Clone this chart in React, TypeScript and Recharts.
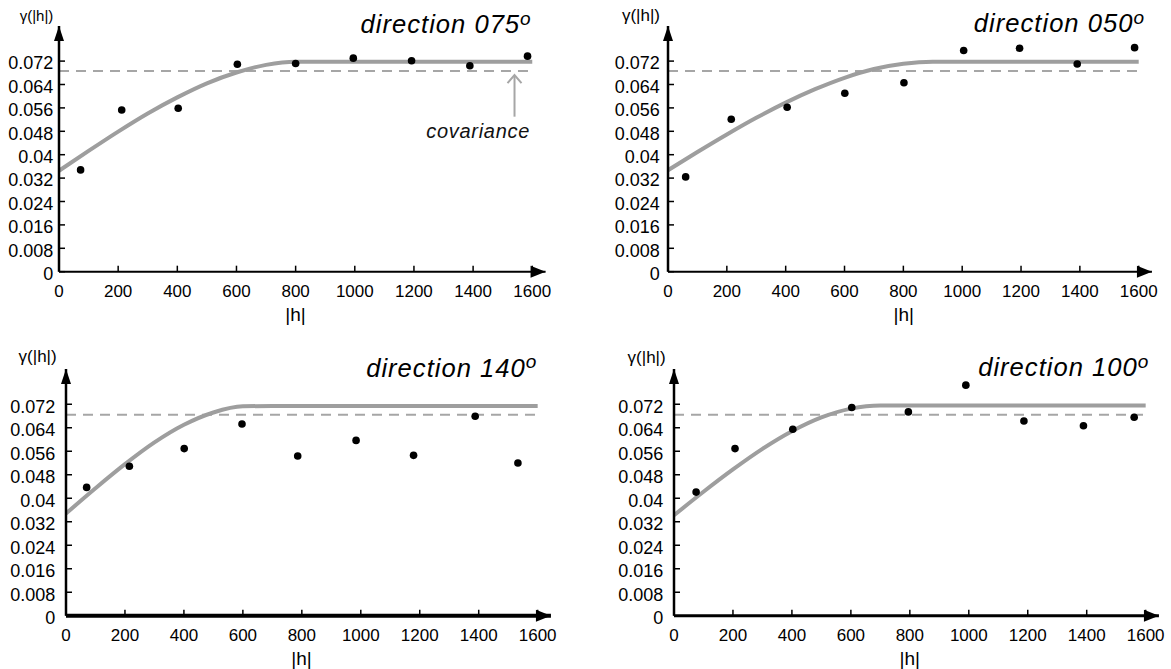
import React from 'react';
import { ComposedChart, Line, Scatter, XAxis, YAxis, ReferenceLine, ReferenceDot } from 'recharts';

const FONT = '"Liberation Sans", Arial, Helvetica, sans-serif';

const LAG_TICKS = [0, 200, 400, 600, 800, 1000, 1200, 1400, 1600];
const GAMMA_TICKS = [0, 0.008, 0.016, 0.024, 0.032, 0.04, 0.048, 0.056, 0.064, 0.072];
const MODEL_LAGS = [0, 100, 200, 300, 400, 500, 600, 700, 800, 900, 1000, 1100, 1200, 1300, 1400, 1500, 1600];

// direction 075
const LAGS_075 = [73, 212, 403, 603, 800, 995, 1192, 1389, 1584];
const GAMMA_075 = [0.0348, 0.0553, 0.0559, 0.0709, 0.0712, 0.073, 0.0721, 0.0704, 0.0737];
const MODEL_075 = [0.0345, 0.0413, 0.0479, 0.0541, 0.0596, 0.0644, 0.0681, 0.0707, 0.0718, 0.0718, 0.0718, 0.0718, 0.0718, 0.0718, 0.0718, 0.0718, 0.0718];
const COV_075 = 0.0686;

// direction 050
const LAGS_050 = [60, 215, 405, 601, 802, 1005, 1195, 1391, 1586];
const GAMMA_050 = [0.0324, 0.0521, 0.0562, 0.061, 0.0646, 0.0756, 0.0764, 0.071, 0.0766];
const MODEL_050 = [0.0347, 0.0409, 0.0469, 0.0526, 0.0578, 0.0624, 0.0663, 0.0693, 0.0711, 0.0718, 0.0718, 0.0718, 0.0718, 0.0718, 0.0718, 0.0718, 0.0718];
const COV_050 = 0.0686;

// direction 140
const LAGS_140 = [70, 215, 401, 597, 786, 984, 1179, 1388, 1533];
const GAMMA_140 = [0.0437, 0.0509, 0.0569, 0.0653, 0.0544, 0.0597, 0.0546, 0.0679, 0.052];
const MODEL_140 = [0.0348, 0.0434, 0.0516, 0.059, 0.065, 0.0692, 0.0713, 0.0714, 0.0714, 0.0714, 0.0714, 0.0714, 0.0714, 0.0714, 0.0714, 0.0714, 0.0714];
const COV_140 = 0.0684;

// direction 100
const LAGS_100 = [75, 207, 403, 603, 795, 990, 1187, 1389, 1561];
const GAMMA_100 = [0.0421, 0.0569, 0.0635, 0.0709, 0.0694, 0.0785, 0.0663, 0.0647, 0.0676];
const MODEL_100 = [0.0342, 0.0422, 0.0498, 0.0568, 0.0628, 0.0675, 0.0705, 0.0716, 0.0716, 0.0716, 0.0716, 0.0716, 0.0716, 0.0716, 0.0716, 0.0716, 0.0716];
const COV_100 = 0.0684;

const H_MAX = 1645;
const G_MAX = 0.084;

const fmtGamma = (v: number) => String(Number(v.toFixed(3)));

const Dot = (props: any) => <circle cx={props.cx} cy={props.cy} r={3.8} fill="#000" />;

const RightArrow = (props: any) => (
  <polygon points={`${props.cx},${props.cy} ${props.cx - 15},${props.cy - 6} ${props.cx - 15},${props.cy + 6}`} fill="#000" />
);

const UpArrow = (props: any) => (
  <polygon points={`${props.cx},${props.cy} ${props.cx - 5},${props.cy + 15} ${props.cx + 5},${props.cy + 15}`} fill="#000" />
);

const Chevron = (props: any) => (
  <polyline
    points={`${props.cx - 7},${props.cy + 8} ${props.cx},${props.cy} ${props.cx + 7},${props.cy + 8}`}
    fill="none"
    stroke="#a6a6a6"
    strokeWidth={2}
  />
);

type PanelProps = {
  x0: number;
  y0: number;
  sx: number;
  sy: number;
  lags: number[];
  gamma: number[];
  model: number[];
  cov: number;
  xAxisWidth: number;
  yTickGap: number;
  covArrow?: boolean;
};

const Panel = ({ x0, y0, sx, sy, lags, gamma, model, cov, xAxisWidth, yTickGap, covArrow }: PanelProps) => {
  const yw = 59;
  const xh = 50;
  const mt = 6;
  const mr = 10;
  const plotTop = y0 - G_MAX * sy;
  const plotRight = x0 + H_MAX * sx;
  const left = x0 - yw;
  const top = plotTop - mt;
  const width = plotRight + mr - left;
  const height = y0 + xh - top;

  const points = lags.map((h, i) => ({ h, g: gamma[i] }));
  const curve = MODEL_LAGS.map((h, i) => ({ h, g: model[i] }));

  return (
    <div style={{ position: 'absolute', left, top }}>
      <ComposedChart width={width} height={height} margin={{ top: mt, right: mr, bottom: 0, left: 0 }}>
        <XAxis
          type="number"
          dataKey="h"
          domain={[0, H_MAX]}
          ticks={LAG_TICKS}
          interval={0}
          allowDataOverflow
          height={xh}
          tickSize={-6}
          tickMargin={19}
          axisLine={{ stroke: '#000', strokeWidth: xAxisWidth }}
          tickLine={{ stroke: '#000', strokeWidth: 1.5 }}
          tick={{ fill: '#000', fontSize: 17, fontFamily: FONT }}
        />
        <YAxis
          type="number"
          domain={[0, G_MAX]}
          ticks={GAMMA_TICKS}
          interval={0}
          allowDataOverflow
          width={yw}
          tickSize={-6}
          tickMargin={6 + yTickGap}
          tickFormatter={fmtGamma}
          axisLine={{ stroke: '#000', strokeWidth: 2.5 }}
          tickLine={{ stroke: '#000', strokeWidth: 1.5 }}
          tick={{ fill: '#000', fontSize: 18, fontFamily: FONT, dy: 2 }}
        />
        <ReferenceLine
          segment={[{ x: 0, y: cov }, { x: 1600, y: cov }]}
          stroke="#a6a6a6"
          strokeWidth={2}
          strokeDasharray="10 7"
        />
        <Line
          data={curve}
          dataKey="g"
          type="monotone"
          stroke="#9e9e9e"
          strokeWidth={4}
          dot={false}
          activeDot={false}
          isAnimationActive={false}
        />
        <Scatter data={points} dataKey="g" shape={Dot} isAnimationActive={false} />
        {covArrow && (
          <ReferenceLine
            segment={[{ x: 1540, y: 0.053 }, { x: 1540, y: 0.0672 }]}
            stroke="#a6a6a6"
            strokeWidth={2}
          />
        )}
        {covArrow && <ReferenceDot x={1540} y={0.0672} ifOverflow="visible" shape={Chevron} />}
        <ReferenceDot x={H_MAX} y={0} ifOverflow="visible" shape={RightArrow} />
        <ReferenceDot x={0} y={G_MAX} ifOverflow="visible" shape={UpArrow} />
      </ComposedChart>
    </div>
  );
};

const Title = ({ x, y, dir }: { x: number; y: number; dir: string }) => (
  <text x={x} y={y} textAnchor="end" fontStyle="italic" fontSize={25.6} letterSpacing={1} fontFamily={FONT} fill="#000">
    {`direction ${dir}`}
    <tspan dy={-8.5} fontSize={19}>o</tspan>
  </text>
);

const App = () => (
  <div style={{ position: 'absolute', left: 0, top: 0, width: 1171, height: 669, background: '#fff' }}>
    <Panel x0={59} y0={271.7} sx={0.2958} sy={2925} lags={LAGS_075} gamma={GAMMA_075} model={MODEL_075} cov={COV_075} xAxisWidth={2} yTickGap={5.7} covArrow />
    <Panel x0={668.3} y0={271.7} sx={0.2942} sy={2925} lags={LAGS_050} gamma={GAMMA_050} model={MODEL_050} cov={COV_050} xAxisWidth={2} yTickGap={8.3} />
    <Panel x0={65.7} y0={615.5} sx={0.2948} sy={2937.5} lags={LAGS_140} gamma={GAMMA_140} model={MODEL_140} cov={COV_140} xAxisWidth={4} yTickGap={10.7} />
    <Panel x0={674} y0={615.5} sx={0.2948} sy={2937.5} lags={LAGS_100} gamma={GAMMA_100} model={MODEL_100} cov={COV_100} xAxisWidth={3} yTickGap={10.7} />
    <svg width={1171} height={669} style={{ position: 'absolute', left: 0, top: 0, pointerEvents: 'none' }}>
      <Title x={531.7} y={33.3} dir="075" />
      <Title x={1145} y={32.3} dir="050" />
      <Title x={537.3} y={376.7} dir="140" />
      <Title x={1149.3} y={376} dir="100" />
      <text x={53.3} y={21} textAnchor="end" fontSize={15} fontFamily={FONT} fill="#000">γ(|h|)</text>
      <text x={660} y={21} textAnchor="end" fontSize={17} fontFamily={FONT} fill="#000">γ(|h|)</text>
      <text x={56.7} y={362} textAnchor="end" fontSize={17} fontFamily={FONT} fill="#000">γ(|h|)</text>
      <text x={665.7} y={363} textAnchor="end" fontSize={17} fontFamily={FONT} fill="#000">γ(|h|)</text>
      <text x={295.6} y={321} textAnchor="middle" fontSize={19} fontFamily={FONT} fill="#000">|h|</text>
      <text x={903.7} y={321} textAnchor="middle" fontSize={19} fontFamily={FONT} fill="#000">|h|</text>
      <text x={301.5} y={664.8} textAnchor="middle" fontSize={19} fontFamily={FONT} fill="#000">|h|</text>
      <text x={909.8} y={664.8} textAnchor="middle" fontSize={19} fontFamily={FONT} fill="#000">|h|</text>
      <text x={530} y={138.3} textAnchor="end" fontStyle="italic" fontSize={20} letterSpacing={0.7} fontFamily={FONT} fill="#111">covariance</text>
    </svg>
  </div>
);

export default App;
